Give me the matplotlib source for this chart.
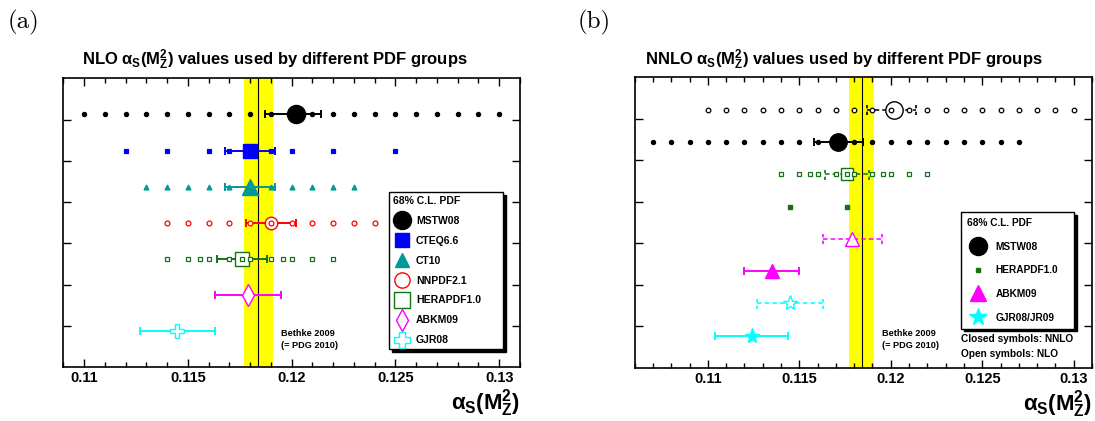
import matplotlib
matplotlib.use("Agg")
import matplotlib.pyplot as plt
from matplotlib.lines import Line2D
from matplotlib.ticker import MultipleLocator, FixedLocator, NullFormatter

plt.rcParams['font.family'] = ['Liberation Sans', 'DejaVu Sans']
plt.rcParams['font.weight'] = 'bold'
plt.rcParams['mathtext.fontset'] = 'custom'
plt.rcParams['mathtext.rm'] = 'Liberation Sans'
plt.rcParams['mathtext.it'] = 'Liberation Sans'
plt.rcParams['mathtext.bf'] = 'Liberation Sans:bold'

# Bethke 2009 world average
world_avg = 0.1184
world_err = 0.0007

# ---- panel (a): NLO ----
nlo_groups = ['MSTW08', 'CTEQ6.6', 'CT10', 'NNPDF2.1', 'HERAPDF1.0', 'ABKM09', 'GJR08']
nlo_central = [0.1202, 0.1180, 0.1180, 0.1190, 0.1176, 0.1179, 0.1145]
nlo_err_lo = [0.0015, 0.0012, 0.0012, 0.0012, 0.0012, 0.0016, 0.0018]
nlo_err_hi = [0.0012, 0.0012, 0.0012, 0.0012, 0.0012, 0.0016, 0.0018]

mstw_nlo_grid = [0.110, 0.111, 0.112, 0.113, 0.114, 0.115, 0.116, 0.117, 0.118, 0.119, 0.120,
                 0.121, 0.122, 0.123, 0.124, 0.125, 0.126, 0.127, 0.128, 0.129, 0.130]
cteq_grid = [0.112, 0.114, 0.116, 0.117, 0.118, 0.119, 0.120, 0.122, 0.125]
ct10_grid = [0.113, 0.114, 0.115, 0.116, 0.117, 0.118, 0.119, 0.120, 0.121, 0.122, 0.123]
nnpdf_grid = [0.114, 0.115, 0.116, 0.117, 0.118, 0.119, 0.120, 0.121, 0.122, 0.123, 0.124]
hera_grid = [0.114, 0.115, 0.1156, 0.116, 0.117, 0.1176, 0.118, 0.119, 0.1196, 0.120, 0.121, 0.122]
nlo_grids = [mstw_nlo_grid, cteq_grid, ct10_grid, nnpdf_grid, hera_grid, [], []]

# ---- panel (b): NNLO (and NLO for comparison) ----
nnlo_labels = ['MSTW08 NLO', 'MSTW08 NNLO', 'HERAPDF1.0 NLO', 'HERAPDF1.0 NNLO',
               'ABKM09 NLO', 'ABKM09 NNLO', 'GJR08 NLO', 'JR09 NNLO']
nnlo_central = [0.1202, 0.1171, 0.1176, None, 0.1179, 0.1135, 0.1145, 0.1124]
nnlo_err_lo = [0.0015, 0.0013, 0.0012, None, 0.0016, 0.0015, 0.0018, 0.0020]
nnlo_err_hi = [0.0012, 0.0014, 0.0012, None, 0.0016, 0.0015, 0.0018, 0.0020]
mstw_nnlo_grid = [0.107, 0.108, 0.109, 0.110, 0.111, 0.112, 0.113, 0.114, 0.115, 0.116, 0.117,
                  0.118, 0.119, 0.120, 0.121, 0.122, 0.123, 0.124, 0.125, 0.126, 0.127]
hera_nnlo_grid = [0.1145, 0.1176]
nnlo_grids = [mstw_nlo_grid, mstw_nnlo_grid, hera_grid, hera_nnlo_grid, [], [], [], []]

teal = '#009999'
green = '#137313'

# style per row: colour, big marker, big size, filled, small marker, small size
nlo_style = [
    ('black', 'o', 13, True, 'o', 3.0),
    ('blue', 's', 10, True, 's', 3.0),
    (teal, '^', 11, True, '^', 3.5),
    ('red', 'o', 9, False, 'o', 3.5),
    (green, 's', 9.5, False, 's', 3.5),
    ('magenta', 'd', 11, False, None, 0),
    ('cyan', 'P', 10, False, None, 0),
]
# same plus dashed flag (open symbols = NLO)
nnlo_style = [
    ('black', 'o', 12.5, False, 'o', 3.3, True),
    ('black', 'o', 12.5, True, 'o', 3.0, False),
    (green, 's', 9, False, 's', 3.5, True),
    (green, 's', 3, True, 's', 3.0, False),
    ('magenta', '^', 10, False, None, 0, True),
    ('magenta', '^', 10, True, None, 0, False),
    ('cyan', '*', 11, False, None, 0, True),
    ('cyan', '*', 11, True, None, 0, False),
]

fig = plt.figure(figsize=(10.95, 4.21), dpi=100)
axL = fig.add_axes([63.3 / 1095, 1 - 367.3 / 421, (520 - 63.3) / 1095, (367.3 - 78.3) / 421])
axR = fig.add_axes([634.7 / 1095, 1 - 368 / 421, (1092 - 634.7) / 1095, (368 - 77.3) / 421])


def setup(ax, xlim, ymax):
    ax.set_xlim(*xlim)
    ax.set_ylim(0, ymax)
    ax.axvspan(world_avg - world_err, world_avg + world_err, color='yellow', zorder=0, lw=0)
    ax.axvline(world_avg, color='black', lw=0.8, zorder=1)
    ax.xaxis.set_major_locator(MultipleLocator(0.005))
    ax.xaxis.set_minor_locator(MultipleLocator(0.001))
    ax.xaxis.set_major_formatter(plt.FuncFormatter(lambda v, p: ('%.3f' % v).rstrip('0')))
    ax.yaxis.set_major_locator(FixedLocator([k * ymax / 7 for k in range(1, 7)]))
    ax.yaxis.set_major_formatter(NullFormatter())
    ax.tick_params(which='both', direction='in', top=True, right=True, width=1.0)
    ax.tick_params(which='major', length=6)
    ax.tick_params(which='minor', length=3.5)
    ax.tick_params(axis='x', labelsize=10.5, pad=3)
    for s in ax.spines.values():
        s.set_linewidth(1.2)
    ax.text(1.0, -0.125, r'$\alpha_{\mathbf{S}}(\mathbf{M}^{\mathbf{2}}_{\mathbf{Z}})$',
            transform=ax.transAxes, ha='right', va='center', fontsize=16)


def draw_row(ax, y, c, lo, hi, grid, col, mk, ms, filled, smk, sms, dashed):
    if grid:
        ax.plot(grid, [y] * len(grid), ls='none', marker=smk, ms=sms, color=col,
                mfc=col if filled else 'white', mew=0.9, zorder=4)
    if c is None:
        return
    if dashed:
        eb = ax.errorbar([c], [y], xerr=[[lo], [hi]], fmt='none', ecolor=col, elinewidth=1.1,
                         capsize=0, zorder=2)
        eb[2][0].set_linestyle((0, (3, 2)))
        ax.vlines([c - lo, c + hi], y - 0.17, y + 0.17, color=col, lw=1.2,
                  linestyles=(0, (2, 2)), zorder=2)
    else:
        ax.errorbar([c], [y], xerr=[[lo], [hi]], fmt='none', ecolor=col, elinewidth=1.4,
                    capsize=2.8, capthick=1.4, zorder=2)
    ax.plot([c], [y], ls='none', marker=mk, ms=ms, color=col,
            mfc=col if filled else 'white', mew=1.0, zorder=3)


# panel (a)
setup(axL, (0.109, 0.131), 8)
n = len(nlo_groups)
for i in range(n):
    y = n - i
    col, mk, ms, filled, smk, sms = nlo_style[i]
    draw_row(axL, y, nlo_central[i], nlo_err_lo[i], nlo_err_hi[i], nlo_grids[i],
             col, mk, ms, filled, smk, sms, False)

# panel (b)
setup(axR, (0.106, 0.131), 9)
m = len(nnlo_labels)
for i in range(m):
    y = m - i
    col, mk, ms, filled, smk, sms, dashed = nnlo_style[i]
    if nnlo_central[i] is None:
        # HERAPDF1.0 NNLO: only the two alpha_s sets, no central value
        axR.plot(nnlo_grids[i], [y] * len(nnlo_grids[i]), ls='none', marker=smk, ms=3.2,
                 color=col, zorder=4)
        continue
    draw_row(axR, y, nnlo_central[i], nnlo_err_lo[i], nnlo_err_hi[i], nnlo_grids[i],
             col, mk, ms, filled, smk, sms, dashed)

# Bethke labels
for ax, y0 in ((axL, 1.05), (axR, 1.2)):
    ax.text(0.1195, y0, 'Bethke 2009\n(= PDG 2010)', fontsize=6.6,
            ha='left', va='top', linespacing=1.35, zorder=5)

# titles and panel tags
fig.text(275 / 1095, 1 - 60 / 421,
         r'NLO $\alpha_{\mathbf{S}}(\mathbf{M}^{\mathbf{2}}_{\mathbf{Z}})$ values used by different PDF groups',
         ha='center', va='center', fontsize=12)
fig.text(844 / 1095, 1 - 60 / 421,
         r'NNLO $\alpha_{\mathbf{S}}(\mathbf{M}^{\mathbf{2}}_{\mathbf{Z}})$ values used by different PDF groups',
         ha='center', va='center', fontsize=12)
fig.text(8 / 1095, 1 - 22 / 421, '(a)', family='cmr10', fontweight='normal', fontsize=18,
         va='center', ha='left')
fig.text(578 / 1095, 1 - 22 / 421, '(b)', family='cmr10', fontweight='normal', fontsize=18,
         va='center', ha='left')

# legends
shadow = {'color': 'black', 'alpha': 1.0}
hL = []
leg_ms = [13, 10, 10, 11, 11, 11, 11]
for i in range(n):
    col, mk, ms, filled, smk, sms = nlo_style[i]
    hL.append(Line2D([], [], ls='none', marker=mk, ms=leg_ms[i], color=col,
                     mfc=col if filled else 'white', mew=1.0))
legL = axL.legend(hL, nlo_groups, loc='upper left',
                  bbox_to_anchor=(389 / 1095, 1 - 196 / 421, 114 / 1095, 0.01),
                  bbox_transform=fig.transFigure, mode='expand',
                  title='68% C.L. PDF', alignment='left', fancybox=False, shadow=shadow,
                  edgecolor='black', framealpha=1, prop={'weight': 'bold', 'size': 7.5},
                  title_fontproperties={'weight': 'bold', 'size': 7.5},
                  handlelength=1.6, handletextpad=0.6, labelspacing=0.95, borderpad=0.4,
                  borderaxespad=0)
legL.get_frame().set_linewidth(1.0)

hR = [Line2D([], [], ls='none', marker='o', ms=13, color='black'),
      Line2D([], [], ls='none', marker='s', ms=3.5, color=green),
      Line2D([], [], ls='none', marker='^', ms=12, color='magenta'),
      Line2D([], [], ls='none', marker='*', ms=13, color='cyan')]
legR = axR.legend(hR, ['MSTW08', 'HERAPDF1.0', 'ABKM09', 'GJR08/JR09'], loc='upper left',
                  bbox_to_anchor=(961 / 1095, 1 - 216 / 421, 113 / 1095, 0.01),
                  bbox_transform=fig.transFigure, mode='expand',
                  title='68% C.L. PDF', alignment='left', fancybox=False, shadow=shadow,
                  edgecolor='black', framealpha=1, prop={'weight': 'bold', 'size': 7.3},
                  title_fontproperties={'weight': 'bold', 'size': 7.3},
                  handlelength=2.2, handletextpad=0.6, labelspacing=1.35, borderpad=0.6,
                  borderaxespad=0)
legR.get_frame().set_linewidth(1.0)

fig.text(961 / 1095, 1 - 339 / 421, 'Closed symbols: NNLO', fontsize=7.3,
         ha='left', va='center')
fig.text(961 / 1095, 1 - 354 / 421, 'Open symbols: NLO', fontsize=7.3,
         ha='left', va='center')

fig.savefig('out.png', dpi=100)
